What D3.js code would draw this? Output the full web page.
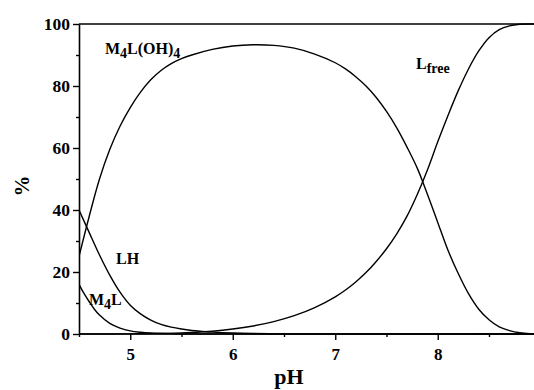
<!DOCTYPE html>
<html><head><meta charset="utf-8">
<script src="https://cdn.jsdelivr.net/npm/d3@7"></script>
<style>
html,body{margin:0;padding:0;background:#fff;}
svg{display:block;font-family:"Liberation Serif","Times New Roman",serif;font-weight:bold;}
</style></head>
<body>
<svg id="chart" width="534" height="390"></svg>
<script>
// pH grid values for each species
const pH_M4LOH4 = [4.5,4.6,4.7,4.8,4.9,5.0,5.1,5.2,5.3,5.4,5.5,5.6,5.8,6.0,6.2,6.4,6.6,6.8,7.0,7.1,7.2,7.3,7.4,7.5,7.6,7.7,7.8,7.9,8.0,8.1,8.2,8.3,8.4,8.5,8.6,8.7,8.8,8.9,9.0];
const pct_M4LOH4 = [25,38,50,59.5,67,73,78,82,85,87.2,88.8,90,91.8,92.9,93.3,93.1,92.2,90.3,87.5,85.5,83,80,76.3,71.8,66.5,60.3,53.5,45,36,27,19.5,13,8,4.6,2.3,1.1,0.4,0.1,0];

const pH_Lfree = [4.5,5.0,5.5,5.8,6.0,6.2,6.4,6.6,6.8,7.0,7.1,7.2,7.3,7.4,7.5,7.6,7.7,7.8,7.9,8.0,8.1,8.2,8.3,8.4,8.5,8.6,8.7,8.8,8.9,9.0];
const pct_Lfree = [0,0.05,0.3,0.9,1.6,2.6,4,5.9,8.5,12,14.2,16.8,19.8,23.4,27.5,32.3,38,45,53,62,70.5,78.5,85.5,91.3,95.6,98.2,99.4,99.9,100,100];

const pH_LH = [4.5,4.6,4.7,4.8,4.9,5.0,5.1,5.2,5.3,5.4,5.5,5.6,5.7,5.8,6.0,6.2,6.5,7.0,9.0];
const pct_LH = [40,32.7,25.5,19,13.5,9.3,6.5,4.5,3.1,2.2,1.6,1.15,0.85,0.6,0.3,0.15,0.05,0,0];

const pH_M4L = [4.5,4.55,4.6,4.65,4.7,4.8,4.9,5.0,5.1,5.2,5.4,5.6,9.0];
const pct_M4L = [16,13,10.4,8,6.1,3.4,1.9,1.0,0.55,0.3,0.08,0,0];

const xMajorTicks = [5,6,7,8];
const xMinorTicks = [4.5,5.5,6.5,7.5,8.5];
const yMajorTicks = [0,20,40,60,80,100];
const yMinorTicks = [10,30,50,70,90];

const svg = d3.select("#chart");
const x = d3.scaleLinear().domain([4.5, 9]).range([79, 540.25]);
const y = d3.scaleLinear().domain([0, 100]).range([334, 24]);
const FONT = "Liberation Serif, Times New Roman, serif";

svg.append("defs").append("clipPath").attr("id","clip")
  .append("rect").attr("x",79).attr("y",22).attr("width",470).attr("height",313);

// frame (top line)
svg.append("line").attr("x1",79).attr("x2",545).attr("y1",y(100)).attr("y2",y(100))
  .attr("stroke","#000").attr("stroke-width",1.6);

// x axis
const xAxis = d3.axisBottom(x).tickValues(xMajorTicks).tickSize(6).tickSizeOuter(0).tickFormat(d3.format("d"));
const gx = svg.append("g").attr("transform",`translate(0,${y(0)})`).call(xAxis);
gx.select(".domain").attr("stroke-width",1.6).attr("d",`M79,0H545`);
gx.selectAll(".tick line").attr("stroke-width",1.4);
gx.selectAll(".tick text").attr("font-size",17).attr("font-weight","bold")
  .attr("font-family",FONT).attr("dy","1.0em").attr("fill","#000");
const gxm = svg.append("g").attr("transform",`translate(0,${y(0)})`)
  .call(d3.axisBottom(x).tickValues(xMinorTicks).tickSize(3).tickSizeOuter(0).tickFormat(""));
gxm.select(".domain").remove();
gxm.selectAll(".tick line").attr("stroke-width",1.4);

// y axis
const yAxis = d3.axisLeft(y).tickValues(yMajorTicks).tickSize(6).tickSizeOuter(0).tickPadding(3);
const gy = svg.append("g").attr("transform",`translate(79,0)`).call(yAxis);
gy.select(".domain").attr("stroke-width",1.6);
gy.selectAll(".tick line").attr("stroke-width",1.4);
gy.selectAll(".tick text").attr("font-size",17.5).attr("font-weight","bold")
  .attr("font-family",FONT).attr("fill","#000");
const gym = svg.append("g").attr("transform",`translate(79,0)`)
  .call(d3.axisLeft(y).tickValues(yMinorTicks).tickSize(3).tickSizeOuter(0).tickFormat(""));
gym.select(".domain").remove();
gym.selectAll(".tick line").attr("stroke-width",1.4);

// axis titles
svg.append("text").attr("x",289).attr("y",384).attr("text-anchor","middle")
  .attr("font-size",22).text("pH");
svg.append("text").attr("transform","translate(29,186) rotate(-90)").attr("text-anchor","middle")
  .attr("font-size",21).text("%");

// curves
const line = d3.line().x(d=>x(d[0])).y(d=>y(d[1])).curve(d3.curveCatmullRom.alpha(0.5));
const series = [
  [pH_M4LOH4, pct_M4LOH4],
  [pH_Lfree, pct_Lfree],
  [pH_LH, pct_LH],
  [pH_M4L, pct_M4L]
];
const gc = svg.append("g").attr("clip-path","url(#clip)");
series.forEach(([xs, ys]) => {
  gc.append("path").datum(d3.zip(xs, ys)).attr("d", line)
    .attr("fill","none").attr("stroke","#000").attr("stroke-width",1.4);
});

// labels
function label(xp, yp, parts){
  const t = svg.append("text").attr("x",xp).attr("y",yp).attr("font-size",16);
  parts.forEach(p=>{
    const ts = t.append("tspan").text(p[0]);
    if(p[1]==="sub") ts.attr("font-size",14).attr("dy",4);
    else if(p[1]==="up") ts.attr("dy",-4);
  });
}
label(105, 54, [["M"],["4","sub"],["L(OH)","up"],["4","sub"]]);
label(416, 69, [["L"],["free","sub"]]);
label(116, 264, [["LH"]]);
label(89, 305, [["M"],["4","sub"],["L","up"]]);
</script>
</body></html>
